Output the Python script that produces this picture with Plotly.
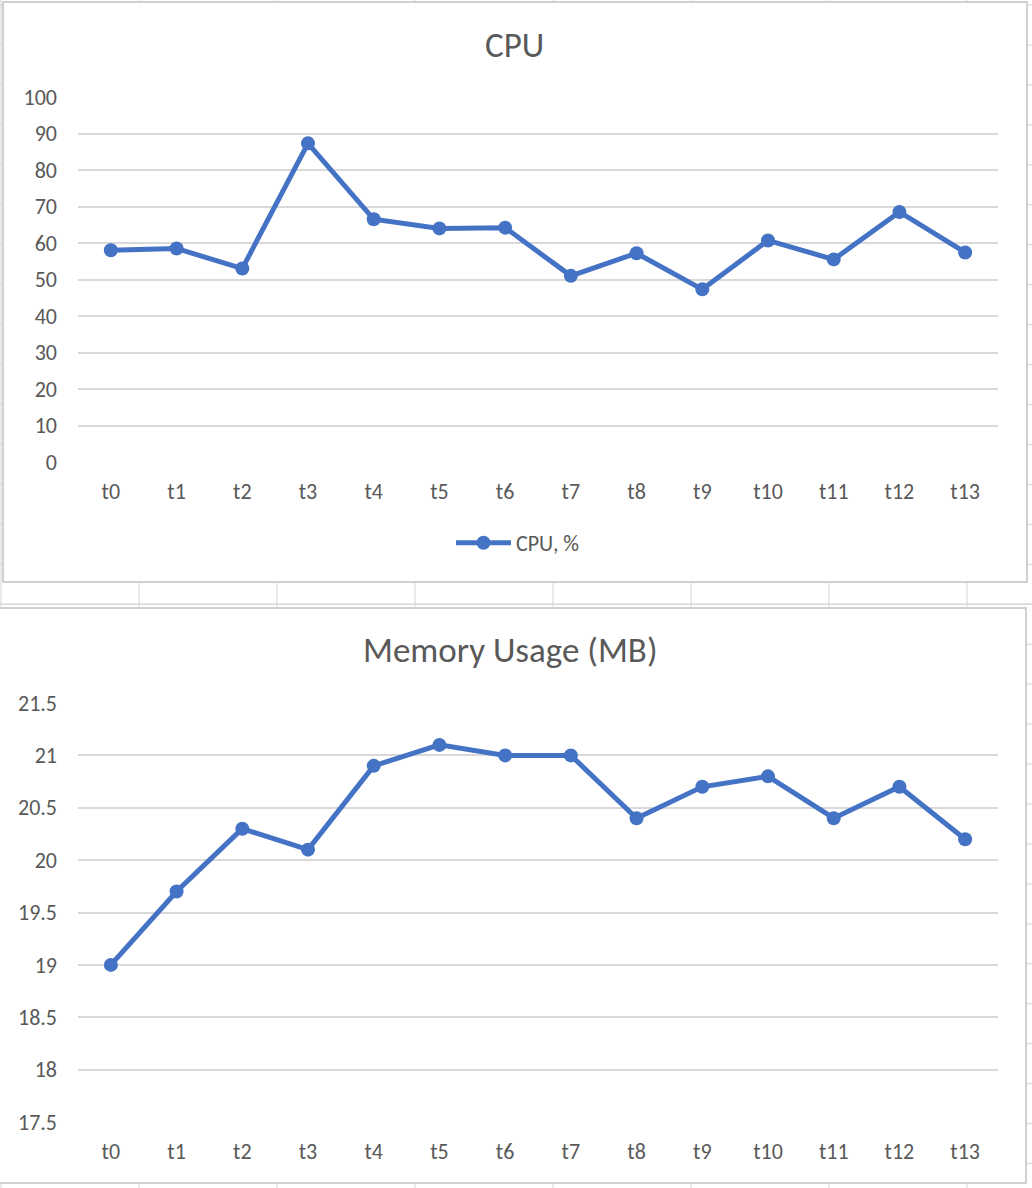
import plotly.graph_objects as go

# ---- data ----
categories = ["t0", "t1", "t2", "t3", "t4", "t5", "t6", "t7", "t8", "t9", "t10", "t11", "t12", "t13"]
cpu_pct = [58.0, 58.5, 53.0, 87.3, 66.5, 64.0, 64.2, 51.0, 57.2, 47.3, 60.7, 55.5, 68.5, 57.4]
memory_mb = [19.0, 19.7, 20.3, 20.1, 20.9, 21.1, 21.0, 21.0, 20.4, 20.7, 20.8, 20.4, 20.7, 20.2]
cpu_ticks = [0, 10, 20, 30, 40, 50, 60, 70, 80, 90, 100]
mem_ticks = [17.5, 18, 18.5, 19, 19.5, 20, 20.5, 21, 21.5]

W, H = 1032, 1188
BLUE = "#4472C4"
TXT = "#595959"
GRID = "#D9D9D9"
FONT = "Carlito, Lato, sans-serif"


def px(x):
    return x / W


def py(y):
    return 1 - y / H


shapes = []
# spreadsheet background grid (decoration)
for cx in [1, 139, 277, 415, 553, 691, 829, 967]:
    shapes.append(dict(type="line", xref="paper", yref="paper", x0=px(cx), x1=px(cx),
                       y0=0, y1=1, line=dict(color="#D4D4D4", width=1), layer="below"))
ry = 5.0
while ry < H:
    shapes.append(dict(type="line", xref="paper", yref="paper", x0=0, x1=1,
                       y0=py(ry), y1=py(ry), line=dict(color="#D4D4D4", width=1), layer="below"))
    ry += 39.95
shapes.append(dict(type="line", xref="paper", yref="paper", x0=0, x1=1,
                   y0=py(604), y1=py(604), line=dict(color="#D4D4D4", width=1), layer="below"))
# chart boxes
shapes.append(dict(type="rect", xref="paper", yref="paper", x0=px(3), x1=px(1027),
                   y0=py(582), y1=py(2), fillcolor="white",
                   line=dict(color="#D0D0D0", width=2), layer="below"))
shapes.append(dict(type="rect", xref="paper", yref="paper", x0=px(-3), x1=px(1026),
                   y0=py(1183), y1=py(608), fillcolor="white",
                   line=dict(color="#D0D0D0", width=2), layer="below"))

fig = go.Figure()
fig.add_trace(go.Scatter(
    x=categories, y=cpu_pct, mode="lines+markers", name="CPU, %",
    line=dict(color=BLUE, width=5), marker=dict(color=BLUE, size=14),
    xaxis="x", yaxis="y", showlegend=True))
fig.add_trace(go.Scatter(
    x=categories, y=memory_mb, mode="lines+markers", name="Memory",
    line=dict(color=BLUE, width=5), marker=dict(color=BLUE, size=14),
    xaxis="x2", yaxis="y2", showlegend=False))

xdom = [px(78), px(998)]
common_x = dict(type="category", range=[-0.5, 13.5], showgrid=False, zeroline=False,
                showline=False, tickfont=dict(family=FONT, size=22, color=TXT),
                ticks="", ticklabelstandoff=14, fixedrange=True, automargin=False)
common_y = dict(showgrid=True, gridcolor=GRID, gridwidth=2, zeroline=False, showline=False,
                tickfont=dict(family=FONT, size=22, color=TXT), ticks="",
                ticklabelstandoff=20, fixedrange=True, automargin=False)

fig.update_layout(
    width=W, height=H, autosize=False,
    margin=dict(l=0, r=0, t=0, b=0, autoexpand=False),
    paper_bgcolor="white", plot_bgcolor="rgba(0,0,0,0)",
    font=dict(family=FONT, color=TXT),
    xaxis=dict(domain=xdom, anchor="y", **common_x),
    yaxis=dict(domain=[py(462), py(97)], anchor="x", range=[0, 100],
               tickvals=cpu_ticks, ticktext=[str(v) for v in cpu_ticks], **common_y),
    xaxis2=dict(domain=xdom, anchor="y2", **common_x),
    yaxis2=dict(domain=[py(1122), py(703)], anchor="x2", range=[17.5, 21.5],
                tickvals=mem_ticks, ticktext=[f"{v:g}" for v in mem_ticks], **common_y),
    shapes=shapes,
    legend=dict(orientation="h", x=px(518), y=py(543), xanchor="center", yanchor="middle",
                font=dict(family=FONT, size=22, color=TXT), itemwidth=55,
                bgcolor="rgba(0,0,0,0)"),
    annotations=[
        dict(text="CPU", x=px(514), y=py(45), xref="paper", yref="paper",
             showarrow=False, font=dict(family=FONT, size=35, color=TXT),
             xanchor="center", yanchor="middle"),
        dict(text="Memory Usage (MB)", x=px(510), y=py(650), xref="paper", yref="paper",
             showarrow=False, font=dict(family=FONT, size=35, color=TXT),
             xanchor="center", yanchor="middle"),
    ],
)

fig.write_html("out.html", config={"displayModeBar": False},
               post_script="document.body.style.margin='0';document.body.style.overflow='hidden';")
